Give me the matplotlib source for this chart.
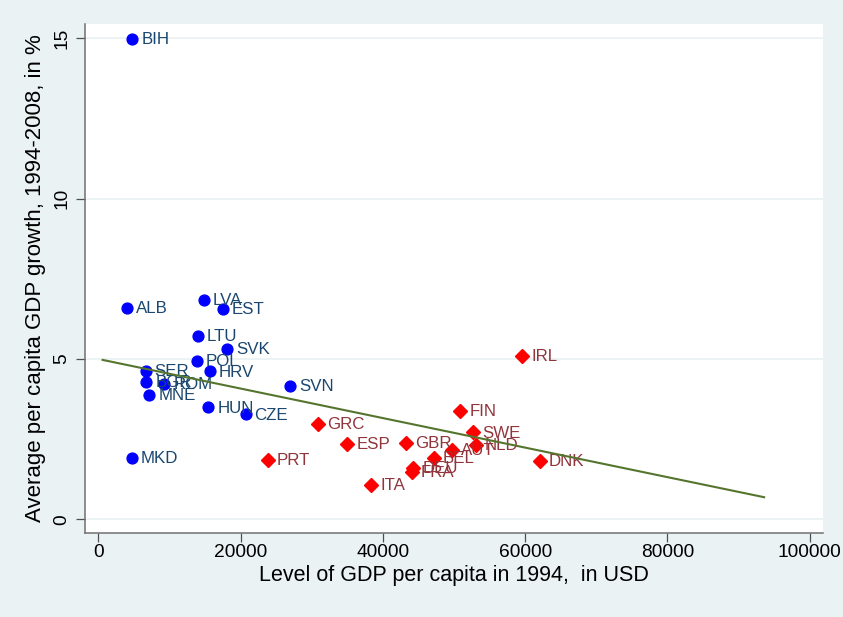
import matplotlib
matplotlib.use("Agg")
from matplotlib import pyplot as plt

plt.rcParams['font.family'] = ['Liberation Sans', 'DejaVu Sans']

# Central/Eastern Europe (blue circles)
cee_names = ["BIH", "ALB", "LVA", "EST", "LTU", "SVK", "POL", "HRV",
             "SER", "BGR", "ROM", "MNE", "HUN", "CZE", "SVN", "MKD"]
cee_gdp94 = [4780, 4030, 14860, 17530, 13970, 18090, 13830, 15660,
             6660, 6750, 9280, 7170, 15460, 20700, 26950, 4740]
cee_growth = [14.98, 6.59, 6.84, 6.56, 5.72, 5.32, 4.93, 4.61,
              4.63, 4.28, 4.22, 3.88, 3.49, 3.27, 4.16, 1.91]

# EU-15 (red diamonds)
eu_names = ["IRL", "FIN", "SWE", "NLD", "AUT", "GBR", "BEL", "DEU",
            "FRA", "DNK", "GRC", "ESP", "PRT", "ITA"]
eu_gdp94 = [59600, 50860, 52710, 53090, 49720, 43210, 47190, 44280,
            44100, 62100, 30900, 35000, 23800, 38330]
eu_growth = [5.09, 3.38, 2.71, 2.31, 2.16, 2.39, 1.91, 1.61,
             1.47, 1.82, 2.97, 2.34, 1.85, 1.07]

# fitted values line (end points)
fit_x = [600, 93600]
fit_y = [4.97, 0.69]

bg = "#eaf2f3"
fig = plt.figure(figsize=(8.43, 6.17), dpi=100, facecolor=bg)
ax = fig.add_axes([85/843, 1 - 532.5/617, (822.7-85)/843, (532.5-24)/617])
ax.set_facecolor("white")

ax.plot(cee_gdp94, cee_growth, linestyle='None', marker='o', markersize=7.8,
        color="#0000ff", zorder=2)
for n, x, y in zip(cee_names, cee_gdp94, cee_growth):
    ax.annotate(n, (x, y), xytext=(6.5, -0.5), textcoords='offset points',
                va='center', ha='left', fontsize=12.2, color="#1a476f", zorder=3)

ax.plot(eu_gdp94, eu_growth, linestyle='None', marker='D', markersize=7,
        color="#ff0000", zorder=2)
for n, x, y in zip(eu_names, eu_gdp94, eu_growth):
    ax.annotate(n, (x, y), xytext=(6.5, -0.5), textcoords='offset points',
                va='center', ha='left', fontsize=12.2, color="#90353b", zorder=3)

ax.plot(fit_x, fit_y, color="#55752f", linewidth=1.5, zorder=4)

ax.set_xlim(-1870, 101830)
ax.set_ylim(-0.41, 15.44)
ax.set_xticks([0, 20000, 40000, 60000, 80000, 100000])
ax.set_yticks([0, 5, 10, 15])
ax.grid(axis='y', color=bg, linewidth=1.3, zorder=0)
ax.set_axisbelow(True)

for s in ['top', 'right']:
    ax.spines[s].set_visible(False)
for s in ['left', 'bottom']:
    ax.spines[s].set_color("#707070")
    ax.spines[s].set_linewidth(1.1)

ax.tick_params(axis='both', direction='out', length=6.5, width=0.9,
               color="#505050", labelsize=13.8)
ax.tick_params(axis='x', pad=2)
ax.tick_params(axis='y', pad=4)
for lab in ax.get_yticklabels():
    lab.set_rotation(90)
    lab.set_va('center')

ax.set_xlabel("Level of GDP per capita in 1994,  in USD", fontsize=15.5, labelpad=3)
ax.set_ylabel("Average per capita GDP growth, 1994-2008, in %", fontsize=16, labelpad=5)

fig.savefig("out.png", dpi=100, facecolor=bg)
